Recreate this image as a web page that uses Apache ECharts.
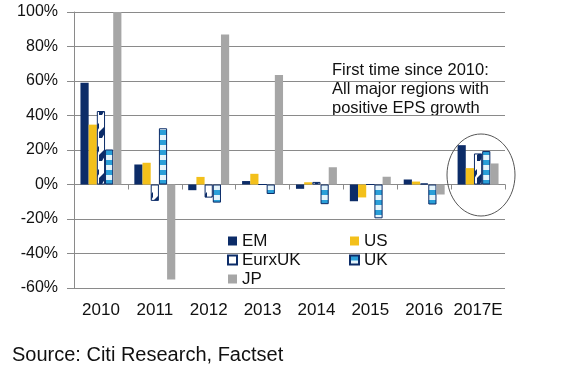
<!DOCTYPE html>
<html><head><meta charset="utf-8">
<script src="https://cdn.jsdelivr.net/npm/echarts@6/dist/echarts.min.js"></script>
<style>html,body{margin:0;padding:0;background:#fff}#c{width:578px;height:379px}</style>
</head><body><div id="c"></div>
<script>
var categories = ['2010','2011','2012','2013','2014','2015','2016','2017E'];
var em     = [59, 11.6, -3.3, 2, -2.5, -9.7, 2.9, 22.8];
var us     = [34.7, 12.6, 4.4, 6.2, 1.3, -7.5, 1.7, 9.5];
var eurxuk = [42.6, -9.5, -7.6, 0, 1.5, 0, 0.6, 18];
var uk     = [20.3, 32.6, -10.5, -5.5, -11.4, -19.6, -11.6, 19.4];
var jp     = [100, -55, 87, 63.5, 10, 4.5, -5.8, 12.2];
var yTicks = [-60, -40, -20, 0, 20, 40, 60, 80, 100];

var NAVY = '#0c2c68', GOLD = '#f3c01b', BLUE = '#2a9fd8', GREY = '#a6a6a6';

function makeHatch(){
  var c = document.createElement('canvas'); c.width = 9; c.height = 23;
  var g = c.getContext('2d');
  g.fillStyle = '#fff'; g.fillRect(0,0,9,23);
  g.fillStyle = NAVY;
  g.beginPath(); g.moveTo(0,23); g.lineTo(0,17); g.lineTo(9,8); g.lineTo(9,13); g.lineTo(3,23); g.closePath(); g.fill();
  return c;
}
function makeStripe(){
  var c = document.createElement('canvas'); c.width = 8; c.height = 10;
  var g = c.getContext('2d');
  g.fillStyle = BLUE; g.fillRect(0,0,8,5);
  g.fillStyle = '#e4f4fb'; g.fillRect(0,5,8,5);
  return c;
}
var hatch = {image: makeHatch(), repeat: 'repeat'};
var stripe = {image: makeStripe(), repeat: 'repeat'};

var chart = echarts.init(document.getElementById('c'), null, {renderer: 'canvas'});
var FONT = 'Liberation Sans, Arial, sans-serif';
function bar(name, data, style){
  return {name: name, type: 'bar', data: data, barGap: '0%', barCategoryGap: '24%',
          itemStyle: style, emphasis: {disabled: true}};
}
chart.setOption({
  animation: false,
  textStyle: {fontFamily: FONT},
  grid: {left: 74, right: 73, top: 12, bottom: 91},
  legend: [
    {data: ['EM','EurxUK','JP'], left: 222, top: 227, orient: 'vertical', icon: 'rect',
     itemWidth: 9, itemHeight: 9, itemGap: 1, textStyle: {fontSize: 17, color: '#111', lineHeight: 18, fontFamily: FONT}},
    {data: ['US','UK'], left: 344, top: 227, orient: 'vertical', icon: 'rect',
     itemWidth: 9, itemHeight: 9, itemGap: 1, textStyle: {fontSize: 17, color: '#111', lineHeight: 18, fontFamily: FONT}}
  ],
  xAxis: [
    {type: 'category', data: categories, axisLine: {onZero: true, lineStyle: {color: '#8a8a8a'}},
     axisTick: {show: true, length: 5, lineStyle: {color: '#8a8a8a'}}, axisLabel: {show: false}},
    {type: 'category', data: categories, position: 'bottom', axisLine: {show: false}, axisTick: {show: false},
     axisLabel: {interval: 0, hideOverlap: false, fontSize: 17, color: '#111', margin: 14, fontFamily: FONT}}
  ],
  yAxis: {type: 'value', min: yTicks[0], max: yTicks[yTicks.length-1], interval: 20,
    axisLine: {show: true, lineStyle: {color: '#8a8a8a'}},
    axisTick: {show: true, length: 7, lineStyle: {color: '#8a8a8a'}},
    splitLine: {lineStyle: {color: '#8a8a8a'}},
    axisLabel: {formatter: '{value}%', fontSize: 16, color: '#111', margin: 16, fontFamily: FONT}},
  series: [
    bar('EM', em, {color: NAVY}),
    bar('US', us, {color: GOLD}),
    bar('EurxUK', eurxuk, {color: hatch, borderColor: NAVY, borderWidth: 1}),
    bar('UK', uk, {color: stripe, borderColor: NAVY, borderWidth: 1}),
    bar('JP', jp, {color: GREY})
  ],
  graphic: [
    {type: 'text', left: 332, top: 61, style: {text: 'First time since 2010:\nAll major regions with\npositive EPS growth',
      fontSize: 16.5, lineHeight: 19, fill: '#111', fontFamily: FONT}},
    {type: 'ellipse', shape: {cx: 481, cy: 175, rx: 34, ry: 41}, style: {fill: 'none', stroke: '#555', lineWidth: 1}, z: 10},
    {type: 'text', left: 12, top: 345, style: {text: 'Source: Citi Research, Factset', fontSize: 20, fill: '#111', fontFamily: FONT}}
  ]
});
</script></body></html>
